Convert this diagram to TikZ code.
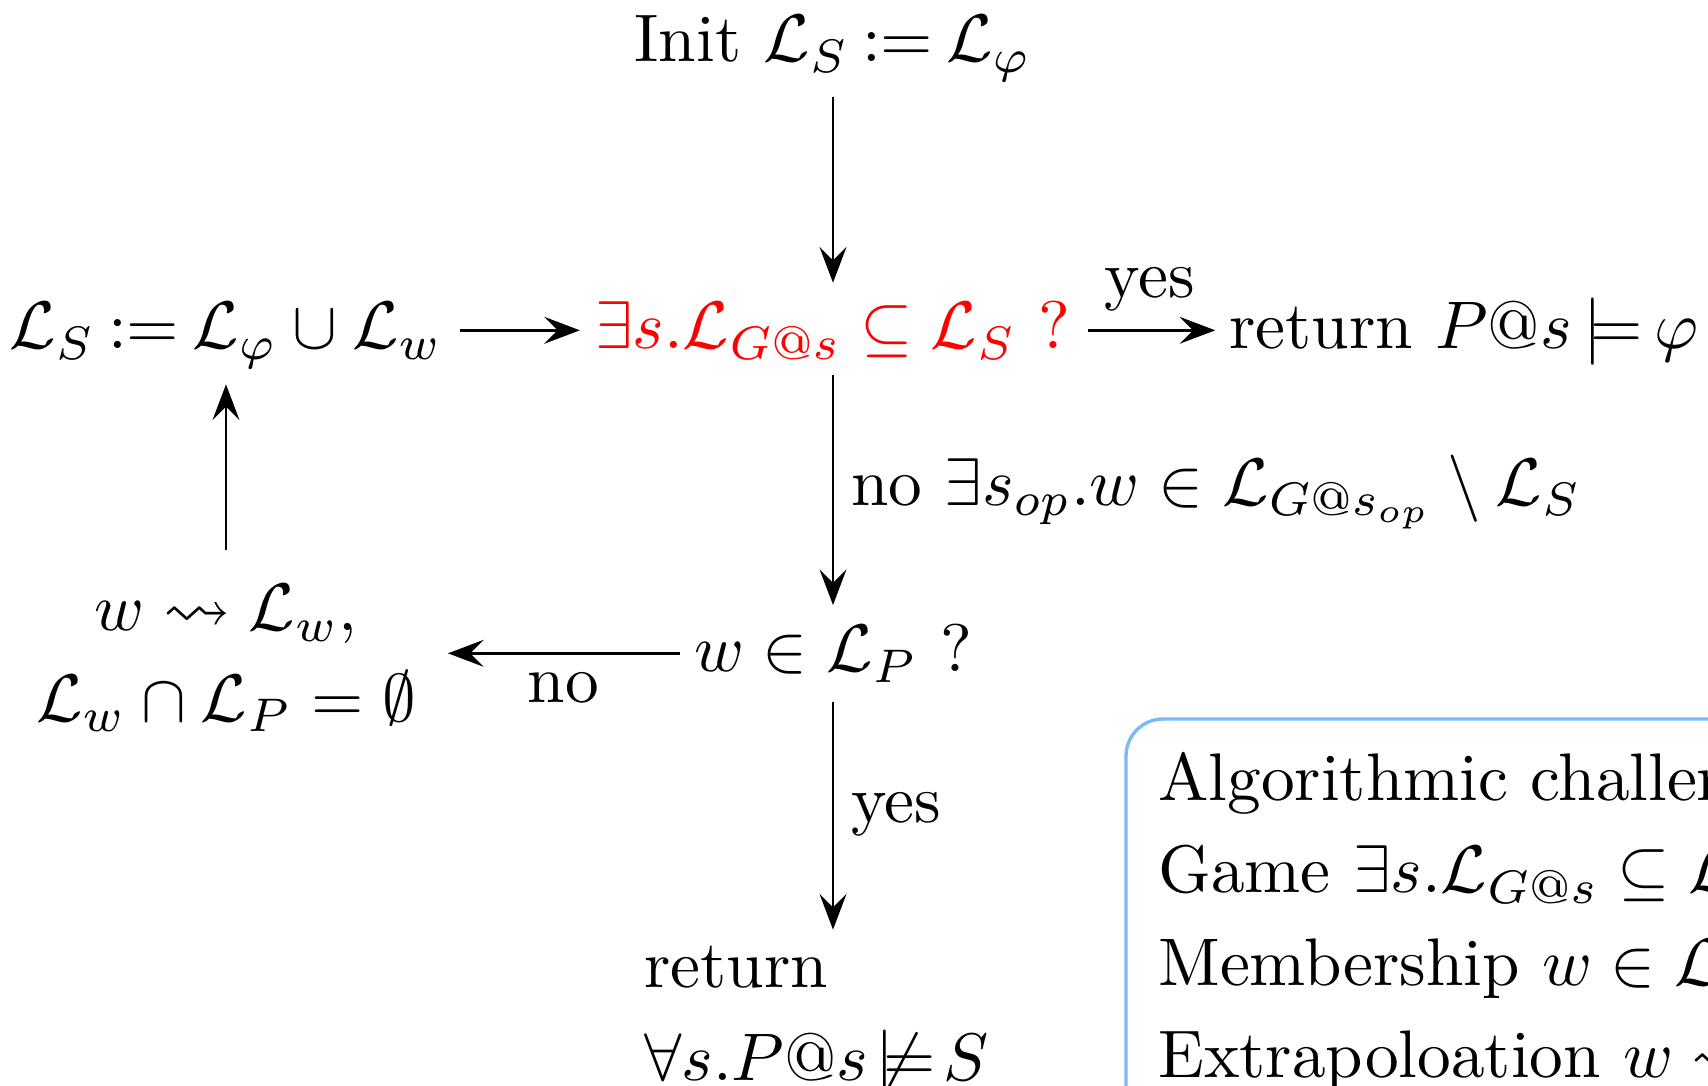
\documentclass[tikz,border=0pt]{standalone}
\usepackage{amsmath,amssymb}
\usetikzlibrary{arrows.meta}
\definecolor{boxblue}{RGB}{125,185,248}
\newcommand{\mydefeq}{\mathrel{\mkern-1.5mu:=\mkern-1.5mu}}
\newcommand{\mymodels}{\mathrel{\mkern-2mu\models\mkern-2mu}}
\newcommand{\mynotmodels}{\mathrel{\mkern-3mu\not\models\mkern-3mu}}
\begin{document}
\begin{tikzpicture}[x=0.1486pt,y=-0.1486pt,
  arr/.style={-{Stealth[length=5.3pt,width=4pt,inset=2pt]}, line width=0.4pt},
  txt/.style={inner sep=0pt, anchor=base},
  lbl/.style={inner sep=0pt}]
\useasboundingbox (0,0) rectangle (1708,1086);
\clip (0,0) rectangle (1708,1086);

% nodes
\node[txt] (init) at (833,62) {Init $\mathcal{L}_S \mydefeq \mathcal{L}_\varphi$};
\node[txt, text=red] (red) at (833,349) {$\exists s.\mathcal{L}_{G@s} \subseteq \mathcal{L}_S$ ?};
\node[txt] (ls) at (226,349) {$\mathcal{L}_S \mydefeq \mathcal{L}_\varphi \cup \mathcal{L}_w$};
\node[txt, anchor=base west] (ret) at (1228,349) {return $P@s \mymodels \varphi$};
\node[txt] (wq) at (833,672) {$w \in \mathcal{L}_P$ ?};
\node[txt] (ext) at (226,631) {\renewcommand{\arraystretch}{1.117}%
  \begin{tabular}[t]{@{}c@{}}$w \leadsto \mathcal{L}_w$,\\ $\mathcal{L}_w \cap \mathcal{L}_P = \emptyset$\end{tabular}};
\node[txt, anchor=base west] (bot) at (643,988) {\renewcommand{\arraystretch}{1.14}%
  \begin{tabular}[t]{@{}l@{}}return\\ $\forall s.P@s \mynotmodels S$\end{tabular}};

% connectors
\draw[arr, shorten <=2.1pt, shorten >=2.6pt] (init.south) -- (red.north);
\draw[arr, shorten <=2.4pt, shorten >=2.1pt] (ls.east |- red.west) -- (red.west);
\draw[arr, shorten <=2.4pt, shorten >=1.9pt] (red.east) -- (ret.west |- red.east)
  node[lbl, midway, above=2.7pt] (yes1) {yes};
\draw[arr, shorten <=2.1pt, shorten >=2.7pt] (red.south) -- (wq.north)
  node[lbl, midway, right=2.5pt] (no1) {no $\exists s_{op}.w \in \mathcal{L}_{G@s_{op}} \setminus \mathcal{L}_S$};
\draw[arr, shorten <=1.9pt, shorten >=4.6pt] (wq.west) -- (ext.east |- wq.west)
  node[lbl, pos=0.47, below=2.6pt] (no2) {no};
\draw[arr, shorten <=2.4pt, shorten >=2.2pt] (ext.north) -- (ls.south);
\draw[arr, shorten <=2.7pt, shorten >=-1.1pt] (wq.south) -- (wq.south |- bot.north)
  node[lbl, pos=0.55, right=2.5pt] (yes2) {yes};

% challenges box (cut by the picture border)
\draw[boxblue, line width=0.5pt, rounded corners=5.5pt] (1126,719) rectangle (1800,1160);
\node[txt, anchor=base west] (c1) at (1157,801) {Algorithmic challenges};
\node[txt, anchor=base west] (c2) at (1157,893) {Game $\exists s.\mathcal{L}_{G@s} \subseteq \mathcal{L}_S$};
\node[txt, anchor=base west] (c3) at (1157,986) {Membership $w \in \mathcal{L}_P$};
\node[txt, anchor=base west] (c4) at (1157,1078) {Extrapoloation $w \leadsto \mathcal{L}_w$};
\end{tikzpicture}
\end{document}
